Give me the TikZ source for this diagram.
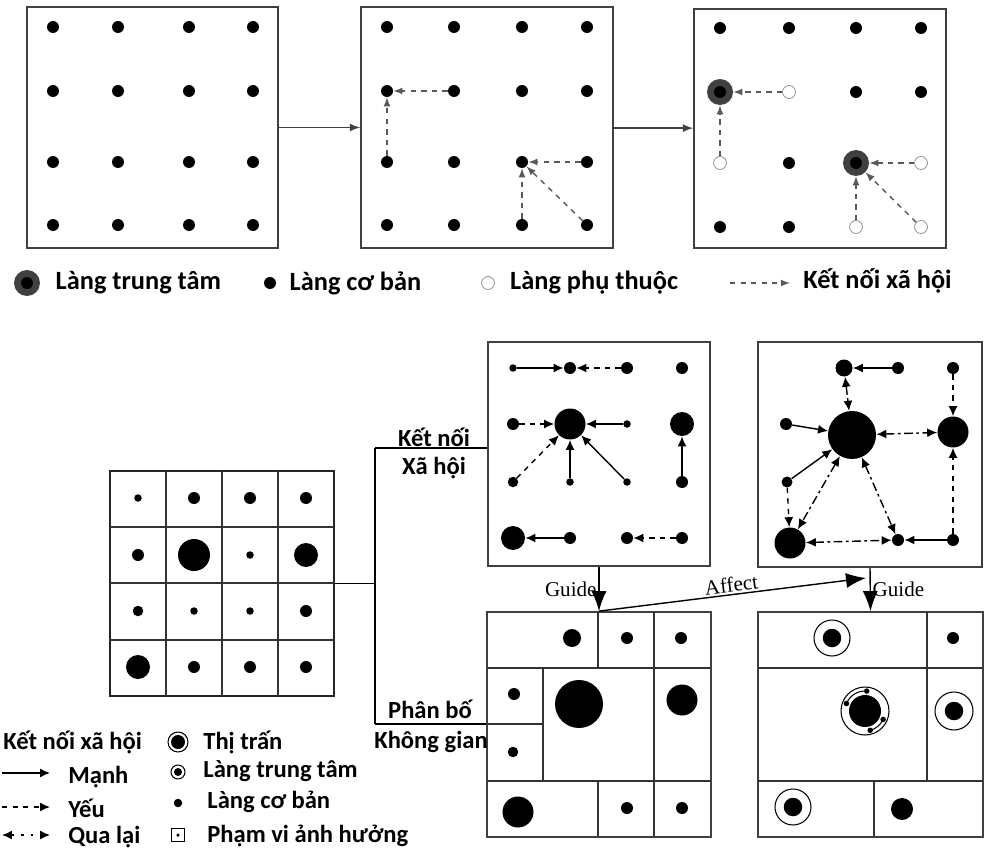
\documentclass[tikz,border=0pt]{standalone}
\usepackage{fontspec}
\setmainfont{Carlito}
\newfontfamily\guidefont{Liberation Serif}
\usetikzlibrary{arrows, arrows.meta, positioning, calc}
\tikzset{%
	vdot/.style={circle, fill=black, inner sep=0mm, minimum size=2.4mm},
	vsmall/.style={vdot, minimum size=1.5mm},
	vmed/.style={vdot, minimum size=3.4mm},
	vlarge/.style={vdot, minimum size=4.8mm},
	vhuge/.style={vdot, minimum size=6.2mm},
	vcore/.style={vdot, minimum size=9.6mm},
	hub/.style={circle, fill=black!75, inner sep=0mm, minimum size=5.2mm,%
		path picture={\fill[black] (path picture bounding box.center) circle (1.2mm);}},
	hollow/.style={circle, draw=black!45, fill=white, inner sep=0mm, minimum size=2.6mm},
	ringed/.style={circle, draw, semithick, fill=white, inner sep=0mm, minimum size=7.4mm,%
		path picture={\fill[black] (path picture bounding box.center) circle (1.85mm);}},
	panel/.style={draw=black!75, line width=1pt, rectangle, inner sep=0mm},
	link/.style={-latex, dashed, thick, black!65},
	strong/.style={-{Latex[length=2mm,width=1.8mm]}, thick},
	weak/.style={strong, dashed},
	mutual/.style={{Latex[length=2mm,width=1.8mm]}-{Latex[length=2mm,width=1.8mm]}, thick,%
		dash pattern=on 5pt off 2pt on 1.5pt off 2pt},
	guide/.style={-{Latex[length=4mm,width=3mm]}, thick},
	zone/.style={draw=black!80, semithick},
	legend/.style={font=\bfseries\fontsize{15}{18}\selectfont, anchor=west, inner sep=0mm},
	tag/.style={font=\bfseries\fontsize{14}{16}\selectfont, inner sep=0mm},
	note/.style={font=\guidefont\fontsize{12}{14}\selectfont, inner sep=1pt}
}
\begin{document}
\begin{tikzpicture}[x=0.02cm, y=-0.02cm]
	\useasboundingbox (0,0) rectangle (984,848);

	%top: three stages
	\node [panel, minimum width=5.02cm, minimum height=4.82cm] (t1) at (152.5,127.5) {};
	\node [panel, minimum width=5.04cm, minimum height=4.82cm] (t2) at (487,127.5) {};
	\node [panel, minimum width=5.04cm, minimum height=4.78cm] (t3) at (820,128.5) {};
	\draw [-latex, line width=1pt, black!75] (t1) to (t2);
	\draw [-latex, line width=1pt, black!75] (t2) to (t3);

	\foreach \x [count=\i] in {53,118,189,253}
		\foreach \y [count=\j] in {27,91,162,225}
			\node [vdot] (a\i\j) at (\x,\y) {};
	\foreach \x [count=\i] in {387,454,522,587}
		\foreach \y [count=\j] in {27,91,162,225}
			\node [vdot] (b\i\j) at (\x,\y) {};
	\draw [link] (b22) to (b12);
	\draw [link] (b13) to (b12);
	\draw [link] (b43) to (b33);
	\draw [link] (b34) to (b33);
	\draw [link] (b44) to (b33);

	\node [vdot] (c11) at (720,28) {};
	\node [vdot] (c21) at (789,28) {};
	\node [vdot] (c31) at (856,28) {};
	\node [vdot] (c41) at (921,28) {};
	\node [hub] (c12) at (720,92) {};
	\node [hollow] (c22) at (789,92) {};
	\node [vdot] (c32) at (856,92) {};
	\node [vdot] (c42) at (921,92) {};
	\node [hollow] (c13) at (720,163) {};
	\node [vdot] (c23) at (789,163) {};
	\node [hub] (c33) at (856,163) {};
	\node [hollow] (c43) at (921,163) {};
	\node [vdot] (c14) at (720,227) {};
	\node [vdot] (c24) at (789,227) {};
	\node [hollow] (c34) at (856,227) {};
	\node [hollow] (c44) at (921,227) {};
	\draw [link] (c22) to (c12);
	\draw [link] (c13) to (c12);
	\draw [link] (c43) to (c33);
	\draw [link] (c34) to (c33);
	\draw [link] (c44) to (c33);

	%top legend
	\node [hub] (lhub) at (27,283) {};
	\node [legend, right=3mm of lhub] (lhubt) {Làng trung tâm};
	\node [vdot] (lbas) at (270,283) {};
	\node [legend, right=2.6mm of lbas] (lbast) {Làng cơ bản};
	\node [hollow] (ldep) at (488,283) {};
	\node [legend, right=3mm of ldep] (ldept) {Làng phụ thuộc};
	\coordinate (la) at (730,283);
	\coordinate (lb) at (790,283);
	\draw [link] (la) to (lb);
	\node [legend] (llinkt) at (803,281) {Kết nối xã hội};

	%bottom left: grid of villages
	\node [panel, draw=black!85, minimum width=4.48cm, minimum height=4.5cm] (grid) at (222,583.5) {};
	\draw [zone] (166,471) -- (166,696) (222,471) -- (222,696) (278,471) -- (278,696);
	\draw [zone] (110,527) -- (334,527) (110,583) -- (334,583) (110,640) -- (334,640);
	\node [vsmall] (g11) at (138,498) {};
	\node [vdot] (g21) at (194,498) {};
	\node [vdot] (g31) at (250,498) {};
	\node [vdot] (g41) at (306,498) {};
	\node [vdot] (g12) at (138,555) {};
	\node [vhuge, minimum size=6.4mm] (g22) at (194,555) {};
	\node [vsmall] (g32) at (250,555) {};
	\node [vlarge] (g42) at (306,555) {};
	\node [vdot, minimum size=2.1mm] (g13) at (138,611) {};
	\node [vsmall] (g23) at (194,611) {};
	\node [vsmall] (g33) at (250,611) {};
	\node [vdot] (g43) at (306,611) {};
	\node [vlarge] (g14) at (138,667) {};
	\node [vdot] (g24) at (194,667) {};
	\node [vdot] (g34) at (250,667) {};
	\node [vdot] (g44) at (306,667) {};

	%social network panels
	\node [panel, minimum width=4.44cm, minimum height=4.48cm] (s2) at (599,454) {};
	\node [panel, minimum width=4.48cm, minimum height=4.5cm] (s3) at (870,454.5) {};

	\node [vsmall] (n1) at (513,368) {};
	\node [vdot] (n2) at (570,368) {};
	\node [vdot] (n3) at (627,368) {};
	\node [vdot] (n4) at (682,368) {};
	\node [vdot] (n5) at (513,424) {};
	\node [vhuge] (n6) at (570,424) {};
	\node [vsmall] (n7) at (627,424) {};
	\node [vlarge] (n8) at (682,424) {};
	\node [vdot, minimum size=2.1mm] (n9) at (513,482) {};
	\node [vsmall] (n10) at (570,482) {};
	\node [vsmall] (n11) at (627,482) {};
	\node [vdot] (n12) at (682,482) {};
	\node [vlarge] (n13) at (513,538) {};
	\node [vdot] (n14) at (570,538) {};
	\node [vdot] (n15) at (627,538) {};
	\node [vdot] (n16) at (682,538) {};
	\draw [strong] (n1) to (n2);
	\draw [weak] (n3) to (n2);
	\draw [weak] (n5) to (n6);
	\draw [strong] (n7) to (n6);
	\draw [weak] (n9) to (n6);
	\draw [strong] (n10) to (n6);
	\draw [strong] (n11) to (n6);
	\draw [strong] (n12) to (n8);
	\draw [strong] (n14) to (n13);
	\draw [weak] (n16) to (n15);

	\node [vmed] (q1) at (844,368) {};
	\node [vdot] (q2) at (898,368) {};
	\node [vdot] (q3) at (953,368) {};
	\node [vdot] (q4) at (786,424) {};
	\node [vcore] (q5) at (852,435) {};
	\node [vhuge] (q6) at (953,432) {};
	\node [vdot, minimum size=2.2mm] (q7) at (787,482) {};
	\node [vhuge] (q8) at (790,543) {};
	\node [vdot] (q9) at (898,540) {};
	\node [vdot] (q10) at (953,540) {};
	\draw [strong] (q2) to (q1);
	\draw [mutual] (q1) to (q5);
	\draw [weak] (q3) to (q6);
	\draw [strong] (q4) to (q5);
	\draw [mutual] (q5) to (q6);
	\draw [strong] (q7) to (q5);
	\draw [weak] (q7) to (q8);
	\draw [mutual] (q5) to (q8);
	\draw [mutual] (q5) to (q9);
	\draw [mutual] (q8) to (q9);
	\draw [strong] (q10) to (q9);
	\draw [weak] (q10) to (q6);

	%spatial panels
	\node [panel, minimum width=4.48cm, minimum height=4.5cm] (p2) at (599,724.5) {};
	\node [panel, minimum width=4.5cm, minimum height=4.5cm] (p3) at (870.5,724.5) {};

	\draw [zone] (487,668) -- (711,668) (487,781) -- (711,781);
	\draw [zone] (598,612) -- (598,668) (598,781) -- (598,837);
	\draw [zone] (654,612) -- (654,837) (543,668) -- (543,781) (487,724) -- (543,724);
	\node [vmed, minimum size=3.6mm] (u1) at (572,638) {};
	\node [vdot] (u2) at (627,638) {};
	\node [vdot] (u3) at (681,638) {};
	\node [vdot] (u4) at (514,694) {};
	\node [vcore] (u5) at (579,704) {};
	\node [vhuge] (u6) at (682,700) {};
	\node [vdot, minimum size=2.1mm] (u7) at (513,752) {};
	\node [vhuge] (u8) at (518,812) {};
	\node [vdot] (u9) at (627,808) {};
	\node [vdot] (u10) at (682,808) {};

	\draw [zone] (758,668) -- (983,668) (758,781) -- (983,781);
	\draw [zone] (927,612) -- (927,781) (874,781) -- (874,837);
	\node [ringed, minimum size=7.2mm] (w1) at (832,638) {};
	\node [vdot] (w2) at (953,638) {};
	\node [circle, draw, semithick, minimum size=9.6mm, inner sep=0mm] (w3) at (865,711) {};
	\fill (w3.center) circle (3.2mm);
	\draw [semithick] (w3.center) ++(85:4mm) arc[start angle=85, end angle=158, radius=4mm];
	\draw [semithick] (w3.center) ++(-25:4mm) arc[start angle=-25, end angle=-75, radius=4mm];
	\foreach \a in {85,158,-25,-75}
		\fill (w3.center) ++(\a:4mm) circle (0.55mm);
	\node [ringed, minimum size=7.6mm] (w4) at (954,711) {};
	\node [ringed, minimum size=7.2mm] (w5) at (793,807) {};
	\node [vdot, minimum size=4.4mm] (w6) at (902,809) {};

	%links between the stages
	\coordinate (fork) at (375,583.5);
	\coordinate (ks) at (375,448);
	\coordinate (pb) at (375,724);
	\coordinate (aff) at (866,578);
	\draw [semithick] (grid.east) -- (fork);
	\draw [semithick] (ks) -- (pb);
	\draw [semithick] (ks) -- (ks -| s2.west);
	\draw [semithick] (pb) -- (pb -| p2.west);
	\node [tag] (kst) at (434,437) {Kết nối};
	\node [tag] (ksb) at (434,468) {Xã hội};
	\node [tag] (pbt) at (430,709) {Phân bố};
	\node [tag] (pbb) at (431,742) {Không gian};
	\draw [guide] (s2.south) to node[note, left] {Guide} (p2.north);
	\draw [guide] (s3.south) to node[note, right] {Guide} (p3.north);
	\draw [guide] (p2.north) to node[note, above, sloped] {Affect} (aff);

	%bottom legend
	\node [tag, anchor=west] (lk) at (3,742) {Kết nối xã hội};
	\coordinate (ms) at (2,773);
	\coordinate (me) at (50,773);
	\coordinate (ys) at (2,807);
	\coordinate (ye) at (50,807);
	\coordinate (qs) at (2,835);
	\coordinate (qe) at (50,835);
	\draw [strong] (ms) to (me);
	\draw [weak] (ys) to (ye);
	\draw [mutual, dash pattern=on 1.5pt off 4pt] (qs) to (qe);
	\node [tag, anchor=west] (lm) at (68,777) {Mạnh};
	\node [tag, anchor=west] (ly) at (68,808) {Yếu};
	\node [tag, anchor=west] (lq) at (68,837) {Qua lại};

	\node [circle, draw, semithick, minimum size=4mm, inner sep=0mm] (lt) at (178,742) {};
	\fill (lt.center) circle (1.4mm);
	\node [circle, draw, semithick, minimum size=2.8mm, inner sep=0mm] (lc) at (178,772) {};
	\fill (lc.center) circle (0.8mm);
	\node [vdot, minimum size=1.7mm] (lb2) at (178,803) {};
	\node [rectangle, draw, semithick, minimum size=2.6mm, inner sep=0mm] (lz) at (178,835) {};
	\fill (lz.center) circle (0.35mm);
	\node [tag, anchor=west] (ltt) at (203,742) {Thị trấn};
	\node [tag, anchor=west] (lct) at (203,771) {Làng trung tâm};
	\node [tag, anchor=west] (lbt) at (207,802) {Làng cơ bản};
	\node [tag, anchor=west] (lzt) at (207,836) {Phạm vi ảnh hưởng};
\end{tikzpicture}
\end{document}
